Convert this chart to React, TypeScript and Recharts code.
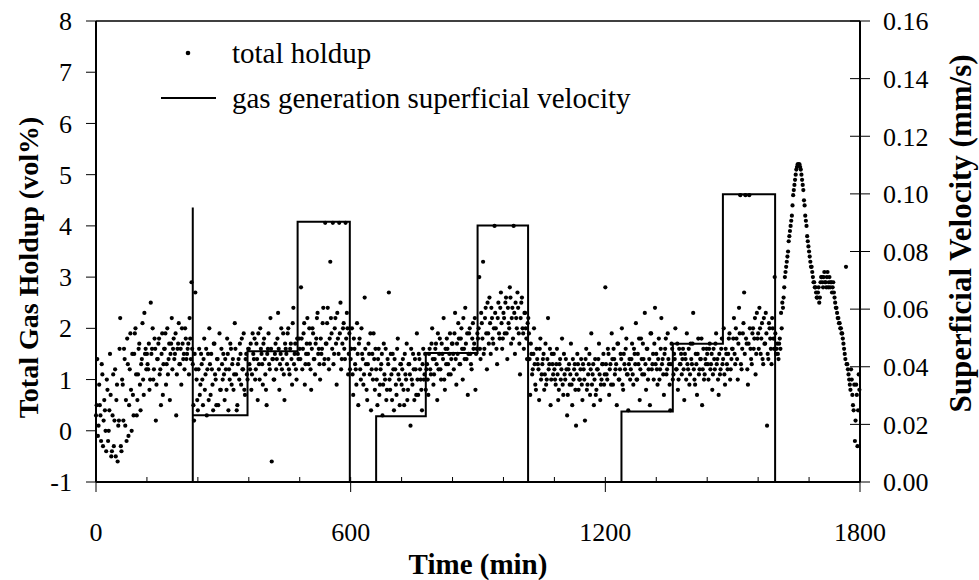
import React from 'react';
import { ComposedChart, Scatter, Line, XAxis, YAxis, Legend, ReferenceLine } from 'recharts';

const FONT = '"Liberation Serif", "Times New Roman", serif';

// total gas holdup (vol%), readings every 3 min from t = 0
const holdupStepMin = 3;
const holdupValues = [
  0.3, 1.4, 0.1, 0.5, -0.2, 1.1, 0.2, 0.4, -0.4, 0.8, 0.0, 1.5, -0.5, 0.3, -0.3, 1.2, 0.6, -0.6, 0.2, 2.2,
  -0.4, 0.9, 1.6, 0.1, -0.2, 1.3, 0.5, 1.9, 0.0, 0.7, 1.5, 2.0, 0.3, 1.1, 1.7, 0.4, 1.4, 1.0, 2.3, 1.6,
  1.5, 1.2, 0.8, 2.5, 1.6, 1.0, 1.8, 0.2, 1.4, 1.7, 1.1, 0.5, 1.9, 1.3, 1.6, 0.9, 2.0, 1.4, 0.6, 1.7,
  1.2, 1.8, 1.5, 0.3, 1.6, 2.1, 1.3, 0.9, 1.7, 1.5, 2.0, 1.4, 1.6, 1.1, 1.8, 2.9, 1.3, 0.2, 2.7, 1.0,
  0.4, 1.6, 0.9, 1.3, 0.5, 1.8, 1.1, 0.3, 1.5, 2.0, 0.7, 1.2, 0.4, 1.7, 1.0, 1.4, 0.5, 1.9, 0.8, 1.3,
  1.5, 0.6, 1.2, 1.8, 0.4, 1.0, 1.6, 1.3, 0.8, 2.1, 1.1, 0.5, 1.4, 1.7, 0.9, 1.2, 1.9, 0.7, 1.5, 1.0,
  1.6, 1.2, 0.8, 1.9, 1.4, 1.0, 1.7, 0.6, 1.3, 2.0, 1.5, 0.9, 1.8, 1.1, 0.5, 1.6, 1.3, 2.2, -0.6, 1.4,
  1.0, 1.7, 1.4, 2.3, 0.8, 1.5, 1.2, 1.9, 0.6, 1.6, 1.3, 2.0, 1.1, 1.7, 0.9, 2.4, 1.5, 1.2, 1.8, 1.4,
  1.6, 2.8, 1.2, 1.9, 0.9, 1.5, 2.2, 1.3, 1.7, 0.8, 2.0, 1.4, 1.1, 1.8, 2.3, 1.6, 1.0, 1.5, 2.1, 1.3,
  4.06, 1.7, 2.4, 1.2, 3.3, 1.9, 4.06, 1.5, 2.2, 0.9, 1.8, 4.06, 2.5, 1.4, 2.0, 1.6, 4.06, 2.3, 1.1, 1.9,
  1.4, 2.0, 0.7, 1.6, 1.2, 2.1, 0.5, 1.8, 1.0, 1.5, 0.9, 2.6, 1.3, 0.6, 1.7, 1.1, 0.4, 1.5, 1.9, 0.8,
  1.2, 0.5, 1.6, 0.9, 1.3, 0.3, 1.7, 1.0, 0.6, 1.4, 2.7, 0.8, 1.1, 1.5, 0.4, 1.2, 0.7, 1.8, 1.0, 1.3,
  0.9, 1.4, 0.5, 1.1, 1.7, 0.8, 1.3, 0.1, 1.0, 1.5, 0.6, 1.2, 1.9, 0.7, 1.4, 1.0, 0.4, 1.6, 1.1, 0.8,
  1.3, 0.7, 1.6, 1.1, 2.0, 0.9, 1.4, 1.7, 0.6, 1.2, 1.8, 1.0, 1.5, 2.2, 0.8, 1.3, 1.6, 1.1, 1.9, 1.4,
  1.7, 1.2, 2.3, 0.9, 1.5, 1.8, 1.3, 2.0, 1.0, 1.6, 2.4, 1.4, 0.7, 1.9, 1.5, 1.2, 2.1, 1.7, 0.8, 1.6,
  1.8, 3.0, 1.4, 2.1, 3.3, 1.6, 2.4, 1.2, 1.9, 2.6, 1.5, 2.2, 1.7, 4.0, 2.0, 1.3, 2.5, 1.8, 2.7, 1.6,
  2.3, 1.9, 2.6, 1.4, 2.1, 2.8, 1.7, 2.4, 4.0, 1.5, 2.2, 2.7, 1.9, 1.1, 2.5, 2.0, 1.6, 2.3, 1.8, 2.1,
  1.9, 0.7, 1.5, 1.2, 2.0, 0.9, 1.6, 1.3, 0.6, 1.8, 1.1, 1.4, 0.8, 1.7, 1.0, 2.2, 1.3, 0.5, 1.5, 1.1,
  1.2, 0.9, 1.6, 0.6, 1.3, 1.0, 1.8, 0.7, 1.1, 1.4, 0.3, 1.2, 0.9, 1.7, 0.5, 1.0, 1.3, 0.1, 1.5, 0.8,
  1.0, 1.4, 0.6, 1.2, 0.2, 1.6, 0.9, 1.3, 0.7, 1.9, 1.1, 0.5, 1.4, 0.8, 1.2, 1.7, 0.6, 1.0, 1.3, 0.9,
  2.8, 1.1, 1.6, 0.7, 1.3, 1.9, 0.9, 1.4, 1.2, 0.5, 1.7, 1.0, 1.5, 2.0, 0.8, 1.3, 1.6, 1.1, 0.4, 1.4,
  1.2, 1.7, 0.9, 1.5, 2.1, 1.0, 1.3, 0.6, 1.8, 1.1, 1.4, 2.3, 0.8, 1.6, 1.2, 0.5, 1.9, 1.3, 1.0, 2.4,
  1.5, 0.9, 1.8, 1.2, 2.2, 1.4, 0.7, 1.6, 1.1, 1.9, 1.3, 0.4, 1.7, 1.0, 1.5, 2.0, 1.2, 0.8, 1.6, 1.3,
  1.1, 1.6, 0.6, 1.4, 1.9, 1.2, 0.9, 1.7, 1.3, 2.3, 1.0, 1.5, 0.7, 1.8, 1.2, 1.4, 0.5, 1.6, 1.1, 1.3,
  1.5, 1.0, 1.7, 1.3, 0.8, 1.6, 1.2, 1.9, 1.4, 0.7, 1.1, 1.6, 1.3, 2.0, 0.9, 1.5, 1.2, 1.8, 1.0, 1.4,
  1.6, 2.2, 1.3, 1.8, 1.0, 2.4, 4.6, 1.2, 1.9, 2.7, 4.6, 1.7, 0.9, 4.6, 1.6, 1.3, 2.0, 1.8, 1.1, 2.3,
  1.9, 2.4, 1.5, 2.1, 1.3, 1.7, 2.3, 0.1, 1.4, 2.0, 1.6, 2.2, 1.8, 3.0, 1.5, 1.7, 1.4, 1.8, 2.3, 2.5,
  2.6, 3.0, 3.2, 3.4, 3.7, 3.9, 4.1, 4.4, 4.7, 4.9, 5.1, 5.2, 5.2, 5.15, 5.0, 4.8, 4.5, 4.2, 4.0, 3.7,
  3.5, 3.3, 3.2, 3.0, 2.9, 2.8, 2.6, 2.7, 2.5, 2.9, 3.0, 2.8, 3.1, 2.9, 3.0, 2.8, 3.0, 2.9, 2.7, 2.9,
  2.6, 2.4, 2.3, 2.2, 2.1, 2.0, 1.9, 1.7, 1.5, 3.2, 1.3, 1.1, 0.9, 1.2, 0.7, 0.4, -0.2, 0.9, -0.3, 1.1,
];

// the in-between readings, taken 1.5 min after each of the ones above
const holdupMidOffsetMin = 1.5;
const holdupMidValues = [
  0.5, -0.1, 0.9, 0.3, 1.3, -0.3, 0.6, 0.0, 1.0, -0.2, 0.4, 0.7, -0.4, 1.1, 0.2, -0.5, 0.9, 0.1, 1.6, -0.3,
  1.0, 0.2, 1.4, 0.6, 1.8, -0.1, 1.2, 0.8, 1.5, 0.3, 1.9, 1.1, 0.6, 1.6, 0.9, 1.3, 2.1, 0.7, 1.5, 1.2,
  1.3, 1.7, 1.0, 1.5, 2.0, 1.2, 1.6, 0.9, 1.4, 1.8, 1.2, 1.5, 0.7, 1.6, 1.9, 1.3, 1.1, 1.7, 1.5, 2.2,
  1.6, 1.4, 1.9, 1.1, 1.7, 1.3, 1.6, 2.0, 1.4, 1.2, 1.8, 1.5, 1.7, 2.2, 1.4, 1.6, 0.5, 1.5, 1.2, 0.6,
  1.2, 0.7, 1.5, 1.0, 1.4, 0.8, 1.6, 1.2, 0.6, 1.3, 1.5, 0.9, 1.7, 1.1, 0.5, 1.4, 1.2, 0.8, 1.6, 1.0,
  1.1, 1.4, 0.8, 1.5, 1.2, 1.7, 0.9, 1.4, 1.1, 1.6, 0.4, 1.3, 1.0, 1.5, 1.8, 1.2, 0.8, 1.4, 1.1, 1.6,
  1.3, 1.7, 1.1, 1.5, 1.8, 1.2, 1.4, 1.9, 1.0, 1.6, 1.3, 1.7, 1.4, 0.8, 1.5, 1.9, 1.2, 1.6, 1.4, 1.0,
  1.5, 1.2, 1.8, 1.6, 1.3, 2.0, 1.4, 1.1, 1.7, 1.5, 1.9, 1.2, 1.6, 1.4, 2.1, 1.3, 1.7, 1.0, 1.5, 1.8,
  1.4, 1.8, 1.6, 2.1, 1.3, 1.7, 1.5, 2.0, 1.2, 1.6, 1.9, 1.4, 1.7, 2.2, 1.5, 1.3, 1.8, 1.6, 2.4, 1.4,
  1.7, 2.1, 1.4, 1.8, 2.2, 1.6, 1.3, 2.0, 1.7, 2.3, 1.5, 1.9, 1.2, 1.7, 2.1, 1.4, 1.8, 2.0, 1.5, 1.2,
  1.6, 1.1, 1.8, 1.3, 0.9, 1.5, 1.7, 1.2, 2.0, 1.4, 1.1, 1.6, 0.8, 1.3, 1.5, 1.9, 1.2, 1.0, 1.4, 1.6,
  1.0, 1.4, 0.7, 1.2, 1.5, 0.9, 1.1, 1.6, 0.8, 1.3, 1.0, 1.5, 0.6, 1.2, 1.4, 0.9, 1.6, 1.1, 0.5, 1.3,
  1.2, 0.8, 1.5, 1.0, 0.6, 1.3, 1.1, 1.6, 0.9, 1.2, 1.4, 0.7, 1.0, 1.5, 1.2, 0.8, 1.3, 1.0, 1.5, 1.2,
  1.0, 1.5, 1.2, 1.7, 1.4, 1.1, 1.6, 1.3, 1.9, 1.5, 1.2, 1.7, 1.4, 1.0, 1.6, 1.8, 1.3, 1.5, 1.1, 1.7,
  1.5, 1.9, 1.4, 1.7, 2.1, 1.3, 1.8, 1.6, 2.2, 1.4, 1.7, 1.9, 1.5, 2.0, 1.3, 1.8, 1.6, 2.2, 1.5, 1.9,
  2.0, 1.6, 2.3, 1.8, 1.5, 2.2, 1.9, 2.5, 1.7, 2.1, 2.4, 1.8, 2.0, 2.3, 1.6, 2.2, 1.9, 2.4, 2.1, 1.8,
  2.2, 2.5, 1.9, 2.4, 2.0, 2.6, 2.2, 1.8, 2.3, 2.5, 2.0, 2.4, 1.7, 2.2, 2.6, 1.9, 2.3, 2.0, 1.4, 2.2,
  1.4, 1.7, 1.1, 1.5, 1.3, 0.8, 1.4, 1.2, 1.6, 1.0, 1.3, 1.5, 1.1, 0.9, 1.4, 1.2, 1.6, 1.0, 1.3, 1.5,
  1.0, 1.3, 1.1, 0.8, 1.4, 1.2, 0.9, 1.5, 1.0, 1.2, 0.7, 1.3, 1.1, 0.9, 1.4, 1.2, 0.8, 1.1, 1.3, 1.0,
  1.2, 0.9, 1.3, 1.0, 1.4, 0.8, 1.1, 1.5, 1.2, 0.9, 1.3, 1.0, 0.7, 1.2, 1.4, 1.1, 0.9, 1.3, 1.5, 1.1,
  1.3, 1.0, 1.5, 1.2, 0.9, 1.4, 1.6, 1.1, 1.3, 1.7, 1.0, 1.2, 1.4, 0.9, 1.5, 1.2, 1.8, 1.1, 1.3, 1.0,
  1.4, 1.1, 1.6, 1.3, 1.0, 1.5, 1.8, 1.2, 1.4, 1.7, 1.1, 1.3, 1.6, 1.0, 1.4, 1.9, 1.2, 1.5, 1.7, 1.3,
  1.2, 1.4, 1.0, 1.6, 1.3, 1.1, 1.5, 1.8, 1.2, 1.4, 0.9, 1.3, 1.6, 1.1, 1.4, 1.2, 1.7, 1.0, 1.3, 1.5,
  1.4, 1.2, 1.5, 1.0, 1.3, 1.6, 1.1, 1.4, 1.7, 1.2, 0.9, 1.3, 1.5, 1.1, 1.4, 1.8, 1.2, 1.0, 1.4, 1.6,
  1.3, 1.6, 1.2, 1.5, 1.1, 1.4, 1.7, 1.3, 1.0, 1.5, 1.2, 1.8, 1.4, 1.1, 1.6, 1.3, 1.5, 1.9, 1.2, 1.6,
  1.8, 1.5, 2.0, 1.4, 1.7, 1.9, 1.3, 1.6, 2.1, 1.5, 1.8, 1.2, 1.7, 2.0, 1.4, 1.9, 1.6, 2.2, 1.5, 1.8,
  1.6, 2.0, 1.8, 1.4, 2.2, 1.7, 1.9, 1.5, 2.1, 1.8, 1.3, 2.0, 1.6, 1.9, 1.6, 1.5, 1.7, 1.6, 2.0, 2.4,
  2.8, 3.1, 3.3, 3.5, 3.8, 4.0, 4.2, 4.6, 4.8, 5.0, 5.15, 5.2, 5.2, 5.1, 4.9, 4.7, 4.4, 4.1, 3.8, 3.6,
  3.4, 3.2, 3.1, 2.9, 2.8, 2.7, 2.6, 2.8, 2.6, 3.0, 2.9, 3.0, 2.9, 2.8, 3.1, 2.9, 2.8, 2.9, 2.8, 2.7,
  2.5, 2.4, 2.2, 2.1, 2.0, 1.9, 1.8, 1.6, 1.4, 1.3, 1.2, 1.0, 0.8, 1.0, 0.5, 0.9, 0.2, 0.7, 0.4, 0.8,
];

// gas generation superficial velocity (mm/s), step changes
const velocityTimes = [0, 228, 228, 357, 475, 598, 660, 777, 899, 1018, 1238, 1359, 1477, 1600, 1800];
const velocityValues = [0, 0.0953, 0.0232, 0.0454, 0.0903, 0, 0.0228, 0.0448, 0.0890, 0, 0.0245, 0.0480, 0.0999, 0, 0];

const timeTicks = [0, 120, 240, 360, 480, 600, 720, 840, 960, 1080, 1200, 1320, 1440, 1560, 1680, 1800];
const timeLabels = [0, 600, 1200, 1800];
const holdupTicks = [-1, 0, 1, 2, 3, 4, 5, 6, 7, 8];
const velocityTicks = [0, 0.02, 0.04, 0.06, 0.08, 0.1, 0.12, 0.14, 0.16];

const holdupData = [
  ...holdupValues.map((h, i) => ({ t: i * holdupStepMin, h })),
  ...holdupMidValues.map((h, i) => ({ t: i * holdupStepMin + holdupMidOffsetMin, h })),
];
const velocityData = velocityTimes.map((t, i) => ({ t, v: velocityValues[i] }));

function TimeTick({ x, y, payload }: any) {
  const major = timeLabels.includes(payload.value);
  return (
    <g>
      <line x1={x} x2={x} y1={y - 5} y2={major ? y + 10 : y} stroke="#000" strokeWidth={1} />
      {major && (
        <text x={x} y={y + 59} textAnchor="middle" fontFamily={FONT} fontSize={26} fill="#000">
          {payload.value}
        </text>
      )}
    </g>
  );
}

function HoldupTick({ x, y, payload }: any) {
  return (
    <g>
      <line x1={x - 10} x2={x} y1={y} y2={y} stroke="#000" strokeWidth={1} />
      <text x={x - 24} y={y} dy="0.35em" textAnchor="end" fontFamily={FONT} fontSize={26} fill="#000">
        {payload.value}
      </text>
    </g>
  );
}

function VelocityTick({ x, y, payload }: any) {
  return (
    <g>
      <line x1={x - 10} x2={x + 10} y1={y} y2={y} stroke="#000" strokeWidth={1} />
      <text x={x + 23} y={y} dy="0.36em" textAnchor="start" fontFamily={FONT} fontSize={26} fill="#000">
        {payload.value.toFixed(2)}
      </text>
    </g>
  );
}

function VerticalTitle({ viewBox, text, cx, shift, size }: any) {
  const cy = viewBox.y + viewBox.height / 2 + shift;
  return (
    <text
      x={cx}
      y={cy}
      transform={`rotate(-90 ${cx} ${cy})`}
      textAnchor="middle"
      dominantBaseline="central"
      fontFamily={FONT}
      fontWeight="bold"
      fontSize={size}
      fill="#000"
    >
      {text}
    </text>
  );
}

function Dot({ cx, cy }: any) {
  return <circle cx={cx} cy={cy} r={2.1} fill="#000" />;
}

// legend drawn as svg so it uses the same serif face as the axes
function LegendBox({ payload }: any) {
  const items = [...(payload || [])].sort(
    (a: any, b: any) => (a.type === 'circle' ? -1 : 0) - (b.type === 'circle' ? -1 : 0)
  );
  return (
    <svg width={540} height={100} style={{ display: 'block' }}>
      {items.map((entry: any, i: number) => {
        const cy = 25 + i * 45;
        return (
          <g key={i}>
            {entry.type === 'circle' ? (
              <circle cx={38} cy={cy} r={2.3} fill="#000" />
            ) : (
              <line x1={11} x2={66} y1={cy} y2={cy} stroke="#000" strokeWidth={2} />
            )}
            <text x={82} y={cy} dy="0.33em" fontFamily={FONT} fontSize={29} fill="#000">
              {entry.value}
            </text>
          </g>
        );
      })}
    </svg>
  );
}

export default function App() {
  return (
    <div style={{ position: 'absolute', left: 0, top: 0, background: '#fff' }}>
      <ComposedChart width={979} height={580} margin={{ top: 21, right: 0, bottom: 0, left: 0 }}>
        <XAxis
          xAxisId="t"
          dataKey="t"
          type="number"
          domain={[0, 1800]}
          ticks={timeTicks}
          interval={0}
          height={98}
          tickSize={0}
          tickMargin={0}
          tickLine={false}
          axisLine={{ stroke: '#000', strokeWidth: 2 }}
          tick={<TimeTick />}
          label={{
            value: 'Time (min)',
            position: 'insideBottom',
            offset: 6,
            style: { fontFamily: FONT, fontWeight: 'bold', fontSize: 29, fill: '#000' },
          }}
        />
        <YAxis
          yAxisId="left"
          type="number"
          domain={[-1, 8]}
          ticks={holdupTicks}
          interval={0}
          width={96}
          tickSize={0}
          tickMargin={0}
          tickLine={false}
          axisLine={{ stroke: '#000', strokeWidth: 2 }}
          tick={<HoldupTick />}
          label={{ content: (p: any) => <VerticalTitle {...p} cx={28} shift={16} size={28} text="Total Gas Holdup (vol%)" /> }}
        />
        <YAxis
          yAxisId="right"
          orientation="right"
          type="number"
          domain={[0, 0.16]}
          ticks={velocityTicks}
          interval={0}
          width={119}
          tickSize={0}
          tickMargin={0}
          tickLine={false}
          axisLine={{ stroke: '#000', strokeWidth: 2 }}
          tick={<VelocityTick />}
          label={{ content: (p: any) => <VerticalTitle {...p} cx={960} shift={-18} size={31} text="Superficial Velocity (mm/s)" /> }}
        />
        <ReferenceLine xAxisId="t" yAxisId="left" y={8} stroke="#000" strokeWidth={1.5} />
        <Scatter
          xAxisId="t"
          yAxisId="left"
          name="total holdup"
          data={holdupData}
          dataKey="h"
          legendType="circle"
          shape={<Dot />}
          isAnimationActive={false}
        />
        <Line
          xAxisId="t"
          yAxisId="right"
          name="gas generation superficial velocity"
          data={velocityData}
          dataKey="v"
          type="stepAfter"
          stroke="#000"
          strokeWidth={2}
          dot={false}
          activeDot={false}
          legendType="line"
          isAnimationActive={false}
        />
        <Legend
          layout="vertical"
          align="center"
          verticalAlign="middle"
          wrapperStyle={{ left: 150, top: 28, width: 540, height: 100 }}
          content={<LegendBox />}
        />
      </ComposedChart>
    </div>
  );
}
